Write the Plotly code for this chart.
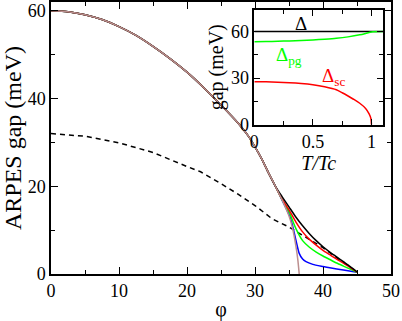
import plotly.graph_objects as go

# main panel: gap vs angle phi (all curves share the same upper part)
phi_common = [0, 2.5, 5, 7.5, 10, 12.5, 15, 17.5, 20, 22.5, 25, 27.5, 29, 30, 31, 32, 33]
gap_common = [60, 59.8, 59.1, 58.0, 56.4, 54.4, 51.9, 49.1, 46.0, 42.4, 38.5, 34.4, 31.5, 29.0, 26.2, 23.0, 20.0]

phi_black_tail = [34, 35, 36, 37, 38, 39, 40, 41, 42, 43, 44, 45]
gap_black_tail = [17.6, 15.3, 13.0, 11.0, 9.2, 7.6, 6.2, 5.0, 3.9, 2.8, 1.7, 0.5]

phi_red_tail = [34, 35, 36, 37, 38, 39, 40, 41, 42, 43, 44, 45]
gap_red_tail = [17.0, 14.6, 11.9, 9.6, 7.9, 6.6, 5.4, 4.4, 3.4, 2.5, 1.5, 0.4]

phi_green_tail = [34, 35, 36, 37, 38, 39, 40, 41, 42, 43, 44, 45]
gap_green_tail = [16.9, 14.2, 10.4, 7.6, 6.1, 5.0, 4.1, 3.3, 2.5, 1.8, 1.1, 0.4]

phi_blue_tail = [34, 35, 35.5, 36, 36.5, 37, 37.5, 38.5, 40, 41, 43, 45]
gap_blue_tail = [16.8, 13.6, 11.2, 7.8, 4.7, 3.4, 2.8, 2.2, 1.7, 1.4, 0.9, 0.4]

phi_brown_tail = [34, 35, 35.5, 36, 36.3, 36.5]
gap_brown_tail = [16.8, 13.2, 10.6, 6.5, 3.2, 0]

phi_dashed = [0, 5, 10, 15, 20, 22, 25, 27.5, 30, 32.5, 35, 37.5, 40, 42.5, 45]
gap_dashed = [32, 31.4, 29.9, 27.7, 24.5, 23.3, 20.6, 18.2, 15.6, 12.6, 10.7, 8.4, 6.0, 3.2, 0.4]

# inset: gaps vs T/Tc
t_delta = [0, 1.1]
delta = [60, 60]
t_pg = [0, 0.1, 0.2, 0.3, 0.4, 0.5, 0.6, 0.7, 0.8, 0.9, 0.95, 1.0, 1.1]
delta_pg = [53.5, 53.6, 53.8, 54.0, 54.3, 54.6, 55.1, 55.7, 56.6, 57.9, 58.8, 59.8, 60.0]
t_sc = [0, 0.1, 0.2, 0.3, 0.4, 0.5, 0.6, 0.7, 0.75, 0.8, 0.85, 0.9, 0.95, 0.98, 0.995, 1.0]
delta_sc = [27.7, 27.6, 27.3, 27.0, 26.5, 25.7, 24.4, 22.5, 20.6, 18.5, 16.3, 13.8, 10.5, 7.0, 4.0, 0]

FONT = "Liberation Serif, Times New Roman, serif"

fig = go.Figure()

fig.add_trace(go.Scatter(x=phi_dashed, y=gap_dashed, mode='lines',
                         line=dict(color='black', width=1.5, dash='5px,4px')))

curves = [
    (phi_blue_tail, gap_blue_tail, '#0000ff'),
    (phi_green_tail, gap_green_tail, '#00ff00'),
    (phi_red_tail, gap_red_tail, '#ff0000'),
    (phi_black_tail, gap_black_tail, 'black'),
    (phi_brown_tail, gap_brown_tail, '#bc8f8f'),
]
for tail_x, tail_y, color in curves:
    fig.add_trace(go.Scatter(x=phi_common + tail_x, y=gap_common + tail_y, mode='lines',
                             line=dict(color=color, width=1.5, shape='spline', smoothing=0.6)))

# inset traces
fig.add_trace(go.Scatter(x=t_delta, y=delta, mode='lines', xaxis='x2', yaxis='y2',
                         line=dict(color='black', width=1.5)))
fig.add_trace(go.Scatter(x=t_pg, y=delta_pg, mode='lines', xaxis='x2', yaxis='y2',
                         line=dict(color='#00ff00', width=1.5, shape='spline', smoothing=0.6)))
fig.add_trace(go.Scatter(x=t_sc, y=delta_sc, mode='lines', xaxis='x2', yaxis='y2',
                         line=dict(color='#ff0000', width=1.5, shape='spline', smoothing=0.6)))

axis_common = dict(showline=True, linecolor='black', linewidth=1.5, mirror='allticks',
                   ticks='inside', ticklen=7, tickwidth=1.2, tickcolor='black',
                   showgrid=False, zeroline=False, automargin=False,
                   tickfont=dict(family=FONT, size=18, color='black'))

fig.update_layout(
    width=402, height=321,
    margin=dict(l=51, r=11, t=2, b=47, autoexpand=False),
    plot_bgcolor='white', paper_bgcolor='white',
    showlegend=False,
    font=dict(family=FONT, color='black', size=18),
    xaxis=dict(axis_common, domain=[0, 1], range=[0, 50], tickvals=[0, 10, 20, 30, 40, 50],
               minor=dict(dtick=5, ticks='inside', ticklen=4, tickcolor='black'),
               title=dict(text='φ', font=dict(family=FONT, size=20), standoff=4)),
    yaxis=dict(axis_common, domain=[0, 1], range=[0, 62], tickvals=[0, 20, 40, 60],
               minor=dict(dtick=10, ticks='inside', ticklen=4, tickcolor='black'),
               title=dict(text='ARPES gap (meV)', font=dict(family=FONT, size=24), standoff=6)),
    xaxis2=dict(axis_common, domain=[0.598, 0.977], anchor='y2', range=[0, 1.1],
                tickvals=[0, 0.5, 1], ticktext=['0', '0.5', '1'], ticklen=6,
                minor=dict(dtick=0.25, ticks='inside', ticklen=4, tickcolor='black'),
                title=dict(text='<i>T/Tc</i>', font=dict(family=FONT, size=20), standoff=0)),
    yaxis2=dict(axis_common, domain=[0.549, 0.971], anchor='x2', range=[0, 74],
                tickvals=[0, 30, 60], ticklen=6,
                minor=dict(dtick=15, ticks='inside', ticklen=4, tickcolor='black'),
                title=dict(text='gap (meV)', font=dict(family=FONT, size=20), standoff=2)),
    annotations=[
        dict(x=0.4, y=65.5, xref='x2', yref='y2', text='Δ', showarrow=False,
             font=dict(family=FONT, size=19, color='black')),
        dict(x=0.3, y=44, xref='x2', yref='y2', text='Δ<sub>pg</sub>', showarrow=False,
             font=dict(family=FONT, size=19, color='#00ff00')),
        dict(x=0.68, y=31, xref='x2', yref='y2', text='Δ<sub>sc</sub>', showarrow=False,
             font=dict(family=FONT, size=19, color='#ff0000')),
    ],
)

# drop the browser's default body margin so the figure sits at the window's corner
fig.write_html("out.html", config={'displayModeBar': False},
               post_script="document.body.style.margin='0';")
